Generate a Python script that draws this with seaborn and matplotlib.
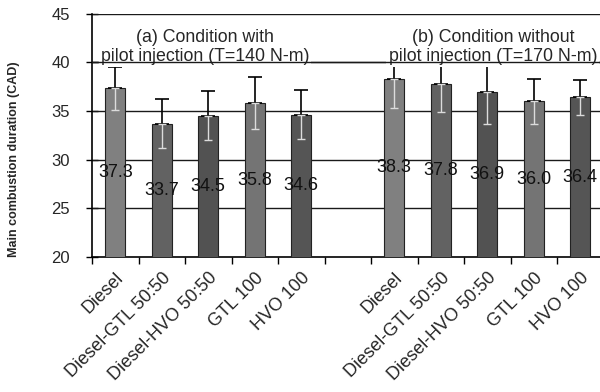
import numpy as np
import pandas as pd
import matplotlib
matplotlib.use("Agg")
import matplotlib.pyplot as plt
import matplotlib.transforms as mtransforms
import seaborn as sns

# ---- data ----
fuels = ["Diesel", "Diesel-GTL 50:50", "Diesel-HVO 50:50", "GTL 100", "HVO 100"]
with_pilot = [37.3, 33.7, 34.5, 35.8, 34.6]
with_pilot_err = [2.2, 2.5, 2.5, 2.7, 2.5]
without_pilot = [38.3, 37.8, 36.9, 36.0, 36.4]
without_pilot_err = [3.0, 2.9, 3.2, 2.3, 1.8]
panel_a_text = "(a) Condition with\npilot injection (T=140 N-m)"
panel_b_text = "(b) Condition without\npilot injection (T=170 N-m)"
ylabel = "Main combustion duration (CAD)"
yticks = [20, 25, 30, 35, 40, 45]

bar_colors = {"Diesel": "#808080", "Diesel-GTL 50:50": "#626262",
              "Diesel-HVO 50:50": "#525252", "GTL 100": "#747474",
              "HVO 100": "#555555"}

pos_a = list(range(0, 5))
pos_b = list(range(6, 11))
df = pd.DataFrame({
    "pos": pos_a + pos_b,
    "value": with_pilot + without_pilot,
    "err": with_pilot_err + without_pilot_err,
    "fuel": fuels + fuels,
})

sns.set_theme(style="white")
plt.rcParams["font.family"] = ["Liberation Sans", "DejaVu Sans"]

fig = plt.figure(figsize=(6.0, 3.92), dpi=100)
ax = fig.add_axes([92 / 600, 1 - 257 / 392, 511.5 / 600, 243.5 / 392])

sns.barplot(data=df, x="pos", y="value", hue="fuel", palette=bar_colors,
            native_scale=True, dodge=False, width=0.43, errorbar=None,
            legend=False, edgecolor="#222222", linewidth=0.8, ax=ax, zorder=3)

# error bars: upper part black, lower part (inside bar) light
ax.errorbar(df["pos"], df["value"], yerr=[np.zeros(len(df)), df["err"]],
            fmt="none", ecolor="black", elinewidth=1.2, capsize=5, capthick=1.2, zorder=4)
ax.errorbar(df["pos"], df["value"], yerr=[df["err"], np.zeros(len(df))],
            fmt="none", ecolor="#dcdcdc", elinewidth=1.0, capsize=3, capthick=1.0, zorder=4)

# value labels in middle of bars
for p, v in zip(df["pos"], df["value"]):
    ax.text(p, (v + 20) / 2, f"{v:.1f}", ha="center", va="center",
            fontsize=13, color="#111111", zorder=5)

ax.set_ylim(20, 45)
ax.set_xlim(-0.5, 10.5)
ax.set_yticks(yticks)
ax.set_yticklabels([str(t) for t in yticks], fontsize=12)
for t in yticks[1:]:
    ax.axhline(t, color="#1a1a1a", lw=1.0, zorder=1)
# the 40 line runs over the panel captions, as in the original
ax.axhline(40, color="#1a1a1a", lw=1.0, zorder=7)

ax.set_xticks(df["pos"])
ax.set_xticklabels(df["fuel"], rotation=45, ha="right", rotation_mode="anchor",
                   fontsize=13)
shift = mtransforms.ScaledTranslation(-6 / 100, 0, fig.dpi_scale_trans)
for lab in ax.get_xticklabels():
    lab.set_transform(lab.get_transform() + shift)
ax.set_xticks(np.arange(-0.5, 11, 1), minor=True)
ax.tick_params(axis="x", which="major", length=0, pad=9)
ax.tick_params(axis="x", which="minor", length=5, width=1, direction="out",
               bottom=True, color="black")
ax.tick_params(axis="y", which="major", length=8, width=1, direction="inout",
               left=True, pad=12, color="black")

for s in ["left", "bottom"]:
    ax.spines[s].set_color("black")
    ax.spines[s].set_linewidth(1.2)
ax.spines["top"].set_visible(False)
ax.spines["right"].set_visible(False)

ax.set_xlabel("")
ax.set_ylabel(ylabel, fontsize=9, fontweight="bold")
ax.yaxis.set_label_coords(-0.141, 0.40)

box = dict(facecolor="white", edgecolor="none", pad=1.5)
ax.text(1.93, 39.7, panel_a_text, ha="center", va="bottom", fontsize=12.8,
        linespacing=1.2, bbox=box, zorder=6)
ax.text(8.12, 39.7, panel_b_text, ha="center", va="bottom", fontsize=12.8,
        linespacing=1.2, bbox=box, zorder=6)

fig.savefig("out.png", dpi=100)
